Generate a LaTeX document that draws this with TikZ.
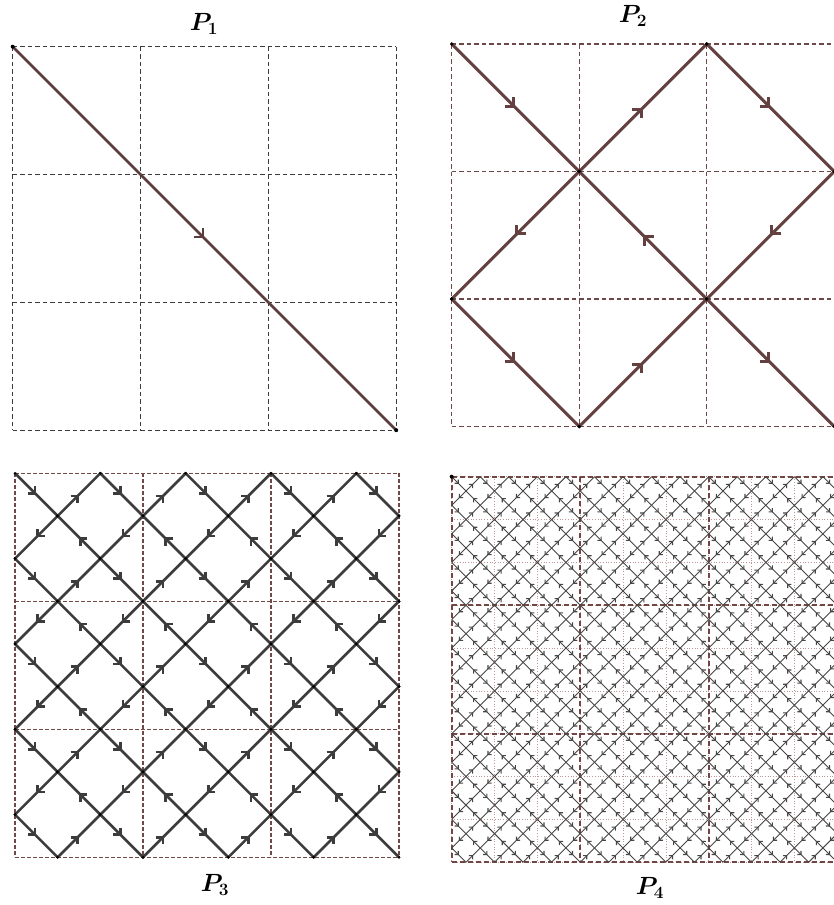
\documentclass[tikz,border=0pt]{standalone}
\usepackage{bm}
\usetikzlibrary{decorations.markings,arrows.meta}
\definecolor{cOne}{RGB}{92,60,60}
\definecolor{gOne}{RGB}{60,60,60}
\definecolor{cTwo}{RGB}{100,64,64}
\definecolor{gTwo}{RGB}{110,72,72}
\definecolor{cThree}{RGB}{60,60,60}
\definecolor{gThree}{RGB}{112,72,72}
\definecolor{cFour}{RGB}{70,70,70}
\definecolor{gFour}{RGB}{115,70,70}
\definecolor{gFourDot}{RGB}{190,150,150}
\tikzset{
  midarrow/.style={postaction={decorate},decoration={markings,mark=at position 0.5 with {\arrow{#1}}}},
  curveone/.style={draw=cOne,line width=2.6pt,midarrow={Straight Barb[length=6.5pt,width=13pt,line width=2.6pt]}},
  curvetwo/.style={draw=cTwo,line width=3pt,midarrow={Straight Barb[length=6.5pt,width=13pt,line width=3pt]}},
  curvethree/.style={draw=cThree,line width=2.6pt,midarrow={Straight Barb[length=5pt,width=10pt,line width=2.6pt]}},
  curvefour/.style={draw=cFour,line width=0.9pt,midarrow={Straight Barb[length=2.6pt,width=5.2pt,line width=1.1pt]}},
  gridone/.style={draw=gOne,line width=1.3pt,dash pattern=on 4.5pt off 3pt},
  gridtwo/.style={draw=gTwo,line width=1.3pt,dash pattern=on 4.5pt off 3pt},
  gridthree/.style={draw=gThree,line width=1.1pt,dash pattern=on 3.5pt off 2.5pt},
  gridfour/.style={draw=gFour,line width=1.8pt,dash pattern=on 5pt off 3pt},
  gridfourdot/.style={draw=gFourDot,line width=0.7pt,dotted},
  vdot/.style={fill=black},
  title/.style={font=\fontsize{24}{28}\selectfont},
}
% #1 x0, #2 y0, #3 size, #4 N-1, #5 style, #6 dot radius (0 = none)
\newcommand\drawpeano[6]{%
  \pgfmathsetmacro\pcs{#3/(#4+1)}%
  \foreach \i in {0,...,#4}{%
    \foreach \j in {0,...,#4}{%
      \pgfmathsetmacro\xa{#1+(\i+mod(\j,2))*\pcs}%
      \pgfmathsetmacro\xb{#1+(\i+1-mod(\j,2))*\pcs}%
      \pgfmathsetmacro\ya{#2+(\j+mod(\i,2))*\pcs}%
      \pgfmathsetmacro\yb{#2+(\j+1-mod(\i,2))*\pcs}%
      \draw[#5] (\xa,\ya) -- (\xb,\yb);
      \ifdim #6pt>0pt
        \fill[vdot] (\xa,\ya) circle (#6);
        \fill[vdot] (\xb,\yb) circle (#6);
      \fi
    }%
  }%
}
% #1 x0, #2 y0, #3 size, #4 n, #5 style
\newcommand\drawgridlines[5]{%
  \foreach \k in {0,...,#4}{%
    \pgfmathsetmacro\gp{\k*#3/#4}%
    \draw[#5] (#1+\gp,#2) -- (#1+\gp,#2+#3);
    \draw[#5] (#1,#2+\gp) -- (#1+#3,#2+\gp);
  }%
}
\begin{document}
\begin{tikzpicture}[x=1pt,y=-1pt]
\useasboundingbox (0,0) rectangle (833,905);
% P1
\drawgridlines{12.7}{46.7}{383.5}{3}{gridone}
\drawpeano{12.7}{46.7}{383.5}{0}{curveone}{2}
\node[title] (t1) at (204,24) {$\bm{P_1}$};
% P2
\drawgridlines{451.7}{44}{382.5}{3}{gridtwo}
\drawpeano{451.7}{44}{382.5}{2}{curvetwo}{1.8}
\node[title] (t2) at (633,16) {$\bm{P_2}$};
% P3
\drawgridlines{15}{473.3}{384}{3}{gridthree}
\drawpeano{15}{473.3}{384}{8}{curvethree}{1.5}
\node[title] (t3) at (215,885) {$\bm{P_3}$};
% P4
\drawgridlines{451.7}{476.7}{385.5}{9}{gridfourdot}
\drawgridlines{451.7}{476.7}{385.5}{3}{gridfour}
\drawpeano{451.7}{476.7}{385.5}{26}{curvefour}{0}
\fill[vdot] (451.7,476.7) circle (2);
\node[title] (t4) at (650,888) {$\bm{P_4}$};
\end{tikzpicture}
\end{document}
